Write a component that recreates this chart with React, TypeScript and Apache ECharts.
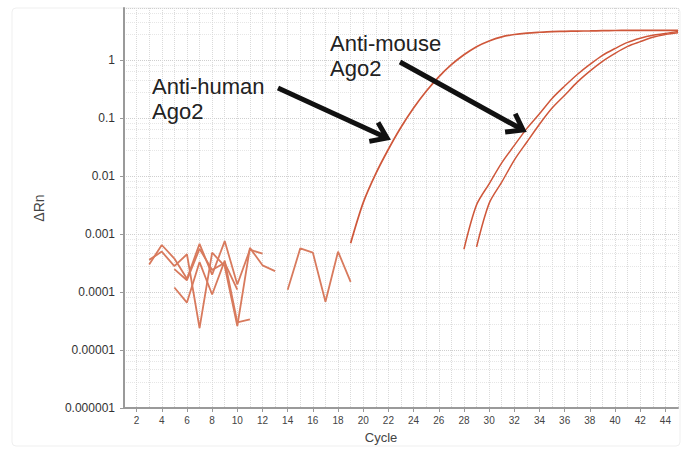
import React, { useEffect, useRef } from "react";
import * as echarts from "echarts";

// Categories: PCR cycles 1..45
const cycles: string[] = Array.from({ length: 45 }, (_, i) => String(i + 1));
const yTickLabels: string[] = ["0.000001", "0.00001", "0.0001", "0.001", "0.01", "0.1", "1"];

// Anti-human Ago2 amplification curve (starts at cycle 19)
const humanStart = 19;
const humanValues = [7e-4, 0.0035, 0.0111, 0.0292, 0.07, 0.15, 0.292, 0.519, 0.841, 1.245, 1.72, 2.16, 2.54, 2.79, 2.95, 3.05, 3.13, 3.16, 3.2, 3.22, 3.25, 3.27, 3.28, 3.29, 3.3, 3.3, 3.3];

// Anti-mouse Ago2 replicate curves
const mouse1Start = 28;
const mouse1Values = [5.5e-4, 0.0032, 0.0074, 0.017, 0.034, 0.067, 0.12, 0.22, 0.36, 0.57, 0.85, 1.22, 1.6, 2.04, 2.4, 2.7, 2.9, 3.16];
const mouse2Start = 29;
const mouse2Values = [6e-4, 0.0034, 0.0079, 0.019, 0.039, 0.079, 0.15, 0.25, 0.42, 0.65, 0.96, 1.32, 1.74, 2.1, 2.5, 2.8, 3.0];

// Baseline noise traces
const noiseAStart = 3;
const noiseAValues = [3.0e-4, 6.5e-4, 3.8e-4, 1.7e-4, 6.8e-4, 2.0e-4, 7.6e-4, 1.35e-4, 5.4e-4, 4.6e-4];
const noiseBStart = 3;
const noiseBValues = [3.6e-4, 5.0e-4, 2.8e-4, 4.5e-4, 2.4e-5, 4.8e-4, 2.8e-4, 2.6e-5, 5.8e-4, 2.9e-4, 2.3e-4];
const noiseCStart = 5;
const noiseCValues = [1.2e-4, 6.6e-5, 3.3e-4, 9.1e-5, 3.5e-4, 3.0e-5, 3.4e-5];
const noiseDStart = 5;
const noiseDValues = [2.5e-4, 1.6e-4, 5.6e-4, 2.4e-4, 3.2e-4, 1.1e-4];
const noiseEStart = 14;
const noiseEValues = [1.1e-4, 5.7e-4, 4.8e-4, 6.8e-5, 5.0e-4, 1.5e-4];

const pad = (start: number, values: number[]) =>
  cycles.map((c) => {
    const i = Number(c) - start;
    return i >= 0 && i < values.length ? values[i] : null;
  });

const CURVE = "#cf573a";
const NOISE = "#d87a5d";
const FONT = "Liberation Sans, Arial, sans-serif";

function arrow(x1: number, y1: number, x2: number, y2: number) {
  const ang = Math.atan2(y2 - y1, x2 - x1);
  const L = 18;
  const spread = 0.62;
  const a1 = [x2 - L * Math.cos(ang - spread), y2 - L * Math.sin(ang - spread)];
  const a2 = [x2 - L * Math.cos(ang + spread), y2 - L * Math.sin(ang + spread)];
  return [
    {
      type: "line",
      shape: { x1, y1, x2: x2 - 3 * Math.cos(ang), y2: y2 - 3 * Math.sin(ang) },
      style: { stroke: "#111", lineWidth: 5 },
      z: 100,
    },
    {
      type: "polyline",
      shape: { points: [a1, [x2, y2], a2] },
      style: { stroke: "#111", lineWidth: 5, fill: null, lineJoin: "miter" },
      z: 100,
    },
  ];
}

export default function App() {
  const ref = useRef<HTMLDivElement>(null);
  useEffect(() => {
    document.body.style.margin = "0";
    if (!ref.current) return;
    const chart = echarts.init(ref.current, null, { renderer: "svg" });
    const line = (name: string, data: (number | null)[], color: string, width: number, smooth: number) => ({
      name,
      type: "line",
      data,
      showSymbol: false,
      symbol: "none",
      connectNulls: false,
      smooth,
      lineStyle: { color, width },
      z: 3,
    });
    const yLabel = (v: number) => {
      const e = Math.log10(v);
      if (Math.abs(e - Math.round(e)) > 1e-6) return "";
      const idx = Math.round(e) + 6;
      return yTickLabels[idx] ?? "";
    };
    chart.setOption({
      animation: false,
      backgroundColor: "#ffffff",
      grid: { left: 124, right: 5, top: 8, bottom: 41, containLabel: false },
      xAxis: {
        type: "category",
        data: cycles,
        boundaryGap: false,
        name: "Cycle",
        nameLocation: "middle",
        nameGap: 23,
        nameTextStyle: { fontSize: 13, color: "#444", fontFamily: FONT, padding: [0, 40, 0, 0] },
        axisLine: { show: true, lineStyle: { color: "#9a9a9a", width: 2 } },
        axisTick: {
          show: true,
          length: 4,
          interval: (i: number) => (i + 1) % 2 === 0,
          lineStyle: { color: "#999" },
        },
        axisLabel: {
          interval: (i: number) => (i + 1) % 2 === 0,
          fontSize: 10,
          color: "#444",
          margin: 7,
          fontFamily: FONT,
        },
        splitLine: { show: true, interval: 0, lineStyle: { color: "#dadada", type: "dotted", width: 1 } },
      },
      yAxis: {
        type: "log",
        logBase: 10,
        min: 1e-6,
        max: 8,
        name: "ΔRn",
        nameLocation: "middle",
        nameGap: 78,
        nameRotate: 90,
        nameTextStyle: { fontSize: 14, color: "#444", fontFamily: FONT },
        axisLine: { show: true, lineStyle: { color: "#9a9a9a", width: 2 } },
        axisTick: { show: true, length: 4, lineStyle: { color: "#999" } },
        axisLabel: {
          formatter: yLabel,
          showMaxLabel: false,
          fontSize: 12,
          color: "#333",
          margin: 9,
          fontFamily: FONT,
        },
        splitLine: { show: true, lineStyle: { color: "#cfcfcf", type: "dotted", width: 1 } },
        minorTick: { show: false, splitNumber: 5 },
        minorSplitLine: { show: true, lineStyle: { color: "#e6e6e6", type: "dotted", width: 1 } },
      },
      series: [
        line("noiseA", pad(noiseAStart, noiseAValues), NOISE, 1.8, 0),
        line("noiseB", pad(noiseBStart, noiseBValues), NOISE, 1.8, 0),
        line("noiseC", pad(noiseCStart, noiseCValues), NOISE, 1.8, 0),
        line("noiseD", pad(noiseDStart, noiseDValues), NOISE, 1.8, 0),
        line("noiseE", pad(noiseEStart, noiseEValues), NOISE, 1.8, 0),
        line("Anti-human Ago2", pad(humanStart, humanValues), CURVE, 1.7, 0.3),
        line("Anti-mouse Ago2 a", pad(mouse1Start, mouse1Values), CURVE, 1.5, 0.3),
        line("Anti-mouse Ago2 b", pad(mouse2Start, mouse2Values), CURVE, 1.5, 0.3),
      ],
      graphic: [
        {
          type: "rect",
          shape: { x: 12, y: 8, width: 668, height: 438, r: 4 },
          style: { fill: null, stroke: "#efefef", lineWidth: 1 },
          z: -1,
          silent: true,
        },
        {
          type: "text",
          x: 152,
          y: 74,
          style: { text: "Anti-human\nAgo2", font: `22px ${FONT}`, fill: "#222", lineHeight: 25 },
          z: 100,
        },
        {
          type: "text",
          x: 330,
          y: 31,
          style: { text: "Anti-mouse\nAgo2", font: `22px ${FONT}`, fill: "#222", lineHeight: 25 },
          z: 100,
        },
        ...arrow(278, 88, 387, 138),
        ...arrow(400, 62, 523, 130),
      ],
    });
    return () => chart.dispose();
  }, []);
  return <div ref={ref} style={{ width: 683, height: 449, position: "absolute", left: 0, top: 0 }} />;
}
